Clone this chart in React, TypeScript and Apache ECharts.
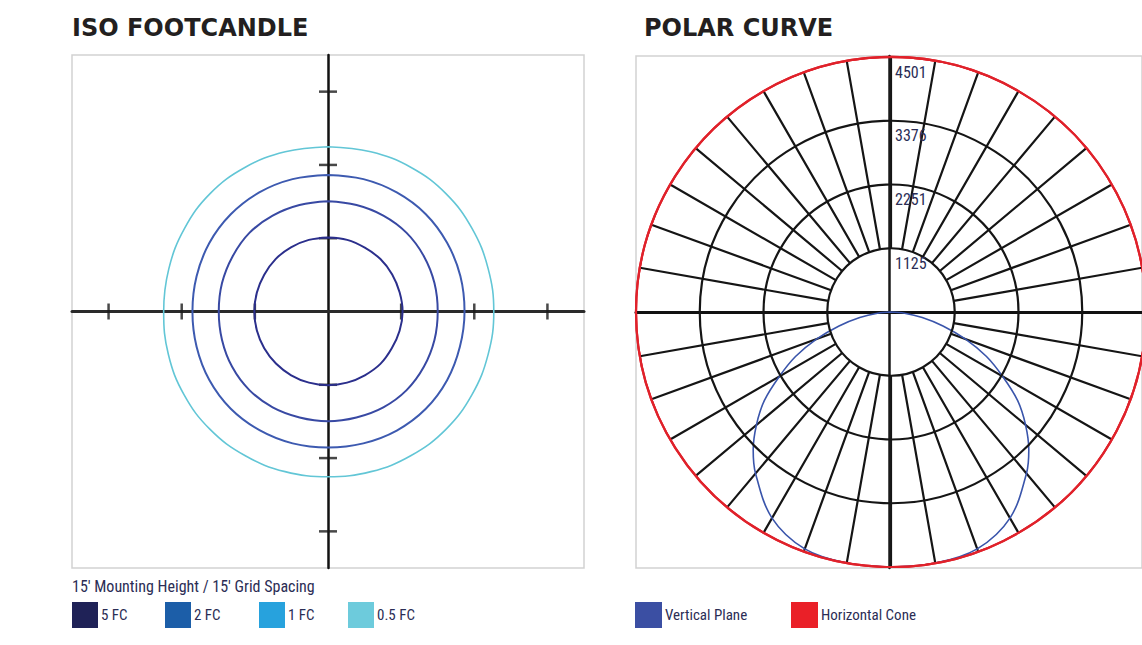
import React, { useEffect, useRef } from 'react';
import * as echarts from 'echarts';

// ---------- texts ----------
const TITLE_ISO = 'ISO FOOTCANDLE';
const TITLE_POLAR = 'POLAR CURVE';
const ISO_NOTE = "15' Mounting Height / 15' Grid Spacing";

// ---------- iso footcandle data (radius in ft, angle clockwise from top) ----------
const ISO_LEVELS = ['5 FC', '2 FC', '1 FC', '0.5 FC'];
const ISO_LINE_COLORS = ['#2b2f8c', '#3849a3', '#3d5ab0', '#62c6d6'];
const ISO_LEGEND_COLORS = ['#1f2257', '#1c5ea8', '#27a2dd', '#6dcbdc'];
const ISO_ANGLES = [0, 15, 30, 45, 60, 75, 90, 105, 120, 135, 150, 165, 180, 195, 210, 225, 240, 255, 270, 285, 300, 315, 330, 345, 360];
const ISO_5FC = [15.2, 15.2, 15.1, 15.2, 15.2, 15.2, 15.3, 15.2, 15.1, 15.2, 15.1, 15.1, 15.1, 15.1, 15.1, 15.1, 15.1, 15.1, 15.1, 15.1, 15.1, 15.2, 15.2, 15.2, 15.2];
const ISO_2FC = [22.6, 22.6, 22.7, 22.8, 22.7, 22.6, 22.5, 22.6, 22.7, 22.8, 22.7, 22.5, 22.5, 22.5, 22.7, 22.8, 22.7, 22.5, 22.4, 22.5, 22.6, 22.8, 22.7, 22.6, 22.6];
const ISO_1FC = [28.0, 28.1, 28.2, 28.3, 28.2, 28.1, 28.0, 28.0, 28.2, 28.3, 28.2, 28.0, 27.9, 28.0, 28.1, 28.2, 28.1, 27.9, 27.8, 27.9, 28.1, 28.2, 28.2, 28.1, 28.0];
const ISO_05FC = [33.8, 33.9, 34.1, 34.2, 34.1, 34.0, 34.0, 34.0, 34.1, 34.2, 34.1, 34.0, 33.9, 34.0, 34.1, 34.2, 34.1, 33.9, 33.7, 33.8, 34.0, 34.2, 34.1, 33.9, 33.8];
const ISO_VALUES = [ISO_5FC, ISO_2FC, ISO_1FC, ISO_05FC];
const ISO_EXTENT_FT = 52.5;
const ISO_TICKS_FT = [-45, -30, -15, 15, 30, 45];

// ---------- polar curve data ----------
const POLAR_MAX = 4501;
const POLAR_RING_LABELS = ['1125', '2251', '3376', '4501'];
const SPOKE_STEP_DEG = 10;
const VERT_GAMMA = [0, 10, 20, 30, 40, 45, 50, 55, 60, 65, 70, 75, 80, 85, 90];
const VERT_CD = [4501, 4501, 4450, 4200, 3720, 3440, 3100, 2730, 2275, 1860, 1400, 950, 560, 240, 0];
const HCONE_ANGLES = [0, 10, 20, 30, 40, 50, 60, 70, 80, 90, 100, 110, 120, 130, 140, 150, 160, 170, 180, 190, 200, 210, 220, 230, 240, 250, 260, 270, 280, 290, 300, 310, 320, 330, 340, 350, 360];
const HCONE_CD = [4501, 4501, 4501, 4501, 4501, 4501, 4501, 4501, 4501, 4501, 4501, 4501, 4501, 4501, 4501, 4501, 4501, 4501, 4501, 4501, 4501, 4501, 4501, 4501, 4501, 4501, 4501, 4501, 4501, 4501, 4501, 4501, 4501, 4501, 4501, 4501, 4501];
const POLAR_NAMES = ['Vertical Plane', 'Horizontal Cone'];
const POLAR_COLORS = ['#3a55ab', '#e0222b'];
const POLAR_LEGEND_COLORS = ['#3b4fa3', '#ea2028'];

const CONDENSED = "'Liberation Sans Narrow', 'Roboto Condensed', 'DejaVu Sans Condensed', Roboto, sans-serif";
const TEXT_NAVY = '#2b2d55';
const GRID_BLACK = '#151515';

export default function App() {
  const ref = useRef<HTMLDivElement>(null);

  useEffect(() => {
    if (!ref.current) return;
    const chart = echarts.init(ref.current, null, { renderer: 'svg' });

    const isoSeries = ISO_LEVELS.map((name, k) => ({
      name,
      type: 'line',
      coordinateSystem: 'polar',
      polarIndex: 2,
      smooth: 0.4,
      symbol: 'none',
      z: 4,
      itemStyle: { color: ISO_LEGEND_COLORS[k] },
      lineStyle: { color: ISO_LINE_COLORS[k], width: k === 3 ? 1.6 : 2 },
      data: ISO_ANGLES.map((a, i) => [ISO_VALUES[k][i], a]),
    }));

    const vertData: number[][] = [];
    for (let i = VERT_GAMMA.length - 1; i >= 0; i--) vertData.push([VERT_CD[i], 180 - VERT_GAMMA[i]]);
    for (let i = 1; i < VERT_GAMMA.length; i++) vertData.push([VERT_CD[i], 180 + VERT_GAMMA[i]]);

    const axisHidden = {
      axisLine: { show: false },
      axisTick: { show: false },
      axisLabel: { show: false },
      splitLine: { show: false },
    };

    const titleStyle = { fontFamily: 'DejaVu Sans', fontWeight: 'bold', fontSize: 24, color: '#231f20' };

    const option: any = {
      animation: false,
      backgroundColor: '#ffffff',
      title: [
        { text: TITLE_ISO, left: 72, top: 16, padding: 0, textStyle: titleStyle },
        { text: TITLE_POLAR, left: 644, top: 16, padding: 0, textStyle: titleStyle },
        {
          text: ISO_NOTE, left: 72, top: 578, padding: 0,
          textStyle: { fontFamily: CONDENSED, fontWeight: 'normal', fontSize: 16, color: TEXT_NAVY },
        },
      ],
      legend: [
        ...ISO_LEVELS.map((name, k) => ({
          data: [{ name, itemStyle: { color: ISO_LEGEND_COLORS[k], borderWidth: 0 } }],
          left: [72, 165, 259, 348][k], top: 602, padding: 0,
          icon: 'rect', itemWidth: 26, itemHeight: 26, selectedMode: false,
          textStyle: { fontFamily: CONDENSED, fontSize: 15, color: TEXT_NAVY, padding: [0, 0, 0, -2] },
        })),
        ...POLAR_NAMES.map((name, k) => ({
          data: [{ name, itemStyle: { color: POLAR_LEGEND_COLORS[k], borderWidth: 0 } }],
          left: [635, 791][k], top: 602, padding: 0,
          icon: 'rect', itemWidth: 27, itemHeight: 26, selectedMode: false,
          textStyle: { fontFamily: CONDENSED, fontSize: 15, color: TEXT_NAVY, padding: [0, 0, 0, -2] },
        })),
      ],
      grid: [
        { left: 72, top: 55, width: 512, height: 513, show: true, borderColor: '#d2d2d2', borderWidth: 1.5, backgroundColor: 'transparent' },
        { left: 636, top: 56, width: 510, height: 512, show: true, borderColor: '#d2d2d2', borderWidth: 1.5, backgroundColor: 'transparent' },
      ],
      xAxis: [
        {
          gridIndex: 0, type: 'value', min: -ISO_EXTENT_FT, max: ISO_EXTENT_FT,
          axisLine: { show: true, onZero: true, lineStyle: { color: '#2a2a2a', width: 3 } },
          axisTick: { show: false }, axisLabel: { show: false }, splitLine: { show: false },
        },
        {
          gridIndex: 1, type: 'value', min: -1, max: 1,
          axisLine: { show: true, onZero: true, lineStyle: { color: '#111111', width: 3 } },
          axisTick: { show: false }, axisLabel: { show: false }, splitLine: { show: false },
        },
      ],
      yAxis: [
        {
          gridIndex: 0, type: 'value', min: -ISO_EXTENT_FT, max: ISO_EXTENT_FT,
          axisLine: { show: true, onZero: true, lineStyle: { color: '#111111', width: 2.5 } },
          axisTick: { show: false }, axisLabel: { show: false }, splitLine: { show: false },
        },
        {
          gridIndex: 1, type: 'value', min: -1, max: 1,
          axisLine: { show: true, onZero: true, lineStyle: { color: '#1a1a1a', width: 2.5 } },
          axisTick: { show: false }, axisLabel: { show: false }, splitLine: { show: false },
        },
      ],
      polar: [
        { center: [891, 312], radius: 255 },
        { center: [891, 312], radius: [255 / 4, 255] },
        { center: [328, 311.5], radius: 256 },
      ],
      angleAxis: [
        {
          polarIndex: 0, type: 'value', min: 0, max: 360, startAngle: 90, clockwise: true,
          axisLine: { show: true, lineStyle: { color: POLAR_COLORS[1], width: 2.2 } },
          axisTick: { show: false }, axisLabel: { show: false }, splitLine: { show: false },
        },
        {
          polarIndex: 1, type: 'value', min: 0, max: 360, interval: SPOKE_STEP_DEG, startAngle: 90,
          axisLine: { show: false }, axisTick: { show: false }, axisLabel: { show: false },
          splitLine: { show: true, lineStyle: { color: GRID_BLACK, width: 2.2 } },
        },
        { polarIndex: 2, type: 'value', min: 0, max: 360, startAngle: 90, clockwise: true, ...axisHidden },
      ],
      radiusAxis: [
        {
          polarIndex: 0, type: 'value', min: 0, max: POLAR_MAX, interval: POLAR_MAX / 4,
          axisLine: { show: false }, axisTick: { show: false },
          splitLine: {
            show: true,
            lineStyle: { color: [GRID_BLACK, GRID_BLACK, GRID_BLACK, GRID_BLACK, POLAR_COLORS[1]], width: 2.2 },
          },
          axisLabel: {
            show: true,
            formatter: (_v: number, i: number) => (i === 0 ? '' : POLAR_RING_LABELS[i - 1] || ''),
            fontFamily: CONDENSED, fontSize: 16, color: TEXT_NAVY,
            align: 'left', verticalAlign: 'top', margin: -4, padding: [7, 0, 0, 0],
          },
          z: 5,
        },
        { polarIndex: 1, type: 'value', min: 0, max: 1, ...axisHidden },
        { polarIndex: 2, type: 'value', min: 0, max: ISO_EXTENT_FT, ...axisHidden },
      ],
      series: [
        {
          name: 'axisTicksX', type: 'scatter', xAxisIndex: 0, yAxisIndex: 0,
          symbol: 'rect', symbolSize: [2.5, 16], z: 3, silent: true,
          itemStyle: { color: '#1a1a1a' },
          data: ISO_TICKS_FT.map((t) => [t, 0]),
        },
        {
          name: 'axisTicksY', type: 'scatter', xAxisIndex: 0, yAxisIndex: 0,
          symbol: 'rect', symbolSize: [18, 2.5], z: 3, silent: true,
          itemStyle: { color: '#1a1a1a' },
          data: ISO_TICKS_FT.map((t) => [0, t]),
        },
        ...isoSeries,
        {
          name: POLAR_NAMES[0], type: 'line', coordinateSystem: 'polar', polarIndex: 0,
          smooth: 0.35, symbol: 'none', z: 4,
          itemStyle: { color: POLAR_LEGEND_COLORS[0] },
          lineStyle: { color: POLAR_COLORS[0], width: 1.6 },
          data: vertData,
        },
        {
          name: POLAR_NAMES[1], type: 'line', coordinateSystem: 'polar', polarIndex: 0,
          smooth: 0.5, symbol: 'none', z: 5,
          itemStyle: { color: POLAR_LEGEND_COLORS[1] },
          lineStyle: { color: POLAR_COLORS[1], width: 2 },
          data: HCONE_ANGLES.map((a, i) => [HCONE_CD[i], a]),
        },
      ],
    };

    chart.setOption(option);
    return () => chart.dispose();
  }, []);

  return (
    <div
      ref={ref}
      style={{ position: 'absolute', left: 0, top: 0, width: 1142, height: 645, background: '#fff' }}
    />
  );
}
